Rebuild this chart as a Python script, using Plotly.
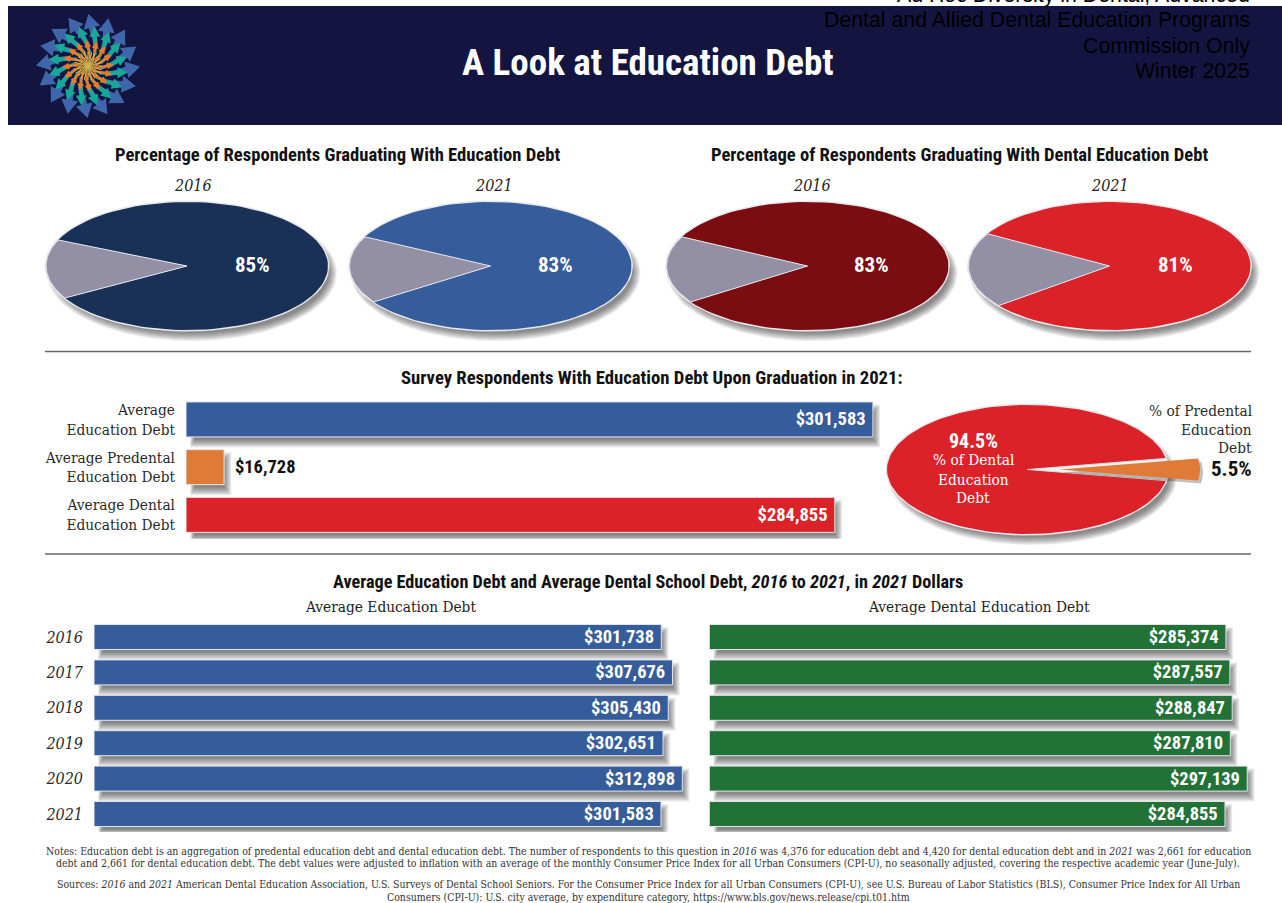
import math
import plotly.graph_objects as go

W, H = 1282, 903

# ---- data ----
PIE_TITLES = ["Percentage of Respondents Graduating With Education Debt",
              "Percentage of Respondents Graduating With Dental Education Debt"]
PIE_YEARS = ["2016", "2021", "2016", "2021"]
PIE_SHARES = [85, 83, 83, 81]

SURVEY_LABELS = ["Average<br>Education Debt", "Average Predental<br>Education Debt",
                 "Average Dental<br>Education Debt"]
SURVEY_VALUES = [301583, 16728, 284855]
SPLIT_DENTAL = 94.5
SPLIT_PREDENTAL = 5.5

YEARS = ["2016", "2017", "2018", "2019", "2020", "2021"]
AVG_EDUCATION_DEBT = [301738, 307676, 305430, 302651, 312898, 301583]
AVG_DENTAL_DEBT = [285374, 287557, 288847, 287810, 297139, 284855]

HEADER_LINES = ["Ad Hoc Diversity in Dental, Advanced",
                "Dental and Allied Dental Education Programs",
                "Commission Only", "Winter 2025"]
NOTE_LINES = [
    "Notes: Education debt is an aggregation of predental education debt and dental education debt. The number of respondents to this question in <i>2016</i> was 4,376 for education debt and 4,420 for dental education debt and in <i>2021</i> was 2,661 for education",
    "debt and 2,661 for dental education debt. The debt values were adjusted to inflation with an average of the monthly Consumer Price Index for all Urban Consumers (CPI-U), no seasonally adjusted, covering the respective academic year (June-July).",
    "Sources: <i>2016</i> and <i>2021</i> American Dental Education Association, U.S. Surveys of Dental School Seniors. For the Consumer Price Index for all Urban Consumers (CPI-U), see U.S. Bureau of Labor Statistics (BLS), Consumer Price Index for All Urban",
    "Consumers (CPI-U): U.S. city average, by expenditure category, https://www.bls.gov/news.release/cpi.t01.htm",
]

# ---- styling ----
NAVY_BAND = "#131540"
NAVY = "#1a3157"
BLUE = "#355c9b"
MAROON = "#7a0c12"
RED = "#dc2229"
ORANGE = "#df7a37"
GREEN = "#227137"
GREY_SLICE = "#9390a5"
HEAD = "Roboto Condensed"
SLAB = "DejaVu Serif Condensed"

fig = go.Figure()


def px(x):
    return x / W


def py(y):
    return 1 - y / H


def label(x, y, text, size, font=HEAD, color="#111111", bold=False, anchor="center", italic=False):
    if bold:
        text = f"<b>{text}</b>"
    fig.add_annotation(xref="paper", yref="paper", x=px(x), y=py(y), text=text, showarrow=False,
                       xanchor=anchor, yanchor="middle", align=anchor,
                       font=dict(size=size, family=font, color=color,
                                 style="italic" if italic else "normal"),
                       borderpad=0, borderwidth=0)


def polygon(xs, ys, fill, line=None, width=0):
    fig.add_trace(go.Scatter(x=xs, y=ys, mode="lines", fill="toself", fillcolor=fill,
                             line=dict(color=line or "rgba(0,0,0,0)", width=width),
                             hoverinfo="skip", showlegend=False, xaxis="x", yaxis="y"))


def arc(cx, cy, rx, ry, a0, a1, n=90):
    ts = [math.radians(a0 + (a1 - a0) * i / n) for i in range(n + 1)]
    return [cx + rx * math.cos(t) for t in ts], [cy + ry * math.sin(t) for t in ts]


def soft_shadow(cx, cy, rx, ry):
    for s in range(9):
        xs, ys = arc(cx + 5, cy + 7, rx + s - 4, ry + s - 4, 0, 360)
        polygon(xs, ys, "rgba(30,30,30,0.075)")


def ellipse_pie(cx, cy, share, colour, tilt, rx=141, ry=64):
    """Main slice in colour; the remainder in grey, centred on the left side of the ellipse."""
    rest = (100 - share) * 3.6
    mid = 180 - tilt
    soft_shadow(cx, cy, rx, ry)
    xs, ys = arc(cx, cy, rx + 1.5, ry + 1.5, 0, 360)
    polygon(xs, ys, "#e8e8ec")
    xs, ys = arc(cx, cy, rx, ry, mid + rest / 2, mid - rest / 2 + 360)
    polygon([cx] + xs + [cx], [cy] + ys + [cy], colour)
    xs, ys = arc(cx, cy, rx, ry, mid - rest / 2, mid + rest / 2, 40)
    polygon([cx] + xs + [cx], [cy] + ys + [cy], GREY_SLICE, "#e4e4ea", 1)


def emblem(cx, cy):
    """Pinwheel of nested arrows in the header band."""
    rings = [(16, 22, 52, -22, 8.5, 14, 3.2, 0, "#3f66ab"),
             (16, 13, 40, -24, 5.5, 10, 2.2, 11, "#17a89a"),
             (16, 7, 26, -26, 3.5, 7, 1.4, 0, "#e77b2a")]
    for count, r0, r1, swirl, w, head, shaft, turn, colour in rings:
        xs, ys = [], []
        for i in range(count):
            a = 2 * math.pi * i / count + math.radians(turn)
            b = a + math.radians(swirl)
            sx, sy = cx + r0 * math.cos(a), cy + r0 * math.sin(a)
            tx, ty = cx + r1 * math.cos(b), cy + r1 * math.sin(b)
            length = math.hypot(tx - sx, ty - sy)
            ux, uy = (tx - sx) / length, (ty - sy) / length
            nx, ny = -uy, ux
            bx, by = tx - ux * head, ty - uy * head
            pts = [(sx + nx * shaft * 0.6, sy + ny * shaft * 0.6), (bx + nx * shaft, by + ny * shaft),
                   (bx + nx * w, by + ny * w), (tx, ty), (bx - nx * w, by - ny * w),
                   (bx - nx * shaft, by - ny * shaft), (sx - nx * shaft * 0.6, sy - ny * shaft * 0.6)]
            xs += [p[0] for p in pts] + [pts[0][0], None]
            ys += [p[1] for p in pts] + [pts[0][1], None]
        polygon(xs, ys, colour)
    xs, ys = [], []
    for i in range(24):
        a = 2 * math.pi * i / 24
        xs += [cx, cx + 14 * math.cos(a), None]
        ys += [cy, cy + 14 * math.sin(a), None]
    fig.add_trace(go.Scatter(x=xs, y=ys, mode="lines", line=dict(color="#d3b04a", width=1.2),
                             hoverinfo="skip", showlegend=False, xaxis="x", yaxis="y"))


# ---- pixel-scaled backdrop axes for the emblem and the elliptical pies ----
emblem(88, 66)
PIE_CENTRES = [(187, 266, 3), (490.5, 266, 3.5), (807.5, 266, 3.5), (1109.5, 266, 4)]
PIE_COLOURS = [NAVY, BLUE, MAROON, RED]
for (cx, cy, tilt), share, colour in zip(PIE_CENTRES, PIE_SHARES, PIE_COLOURS):
    ellipse_pie(cx, cy, share, colour, tilt)

# Dental / predental split pie with the predental slice pulled out to the right
sx, sy, srx, sry = 1027.5, 469.5, 140.5, 64.5
half = SPLIT_PREDENTAL * 3.6 / 2
soft_shadow(sx, sy, srx, sry)
xs, ys = arc(sx, sy, srx + 1.5, sry + 1.5, 0, 360)
polygon(xs, ys, "#e8e8ec")
xs, ys = arc(sx, sy, srx, sry, half, 360 - half, 140)
polygon([sx] + xs + [sx], [sy] + ys + [sy], RED)
xs, ys = arc(sx, sy, srx, sry, -half, half, 10)
polygon([sx] + xs + [sx], [sy] + ys + [sy], "#f2f2f2", "#d9d9d9", 1)
ox = sx + 32
xs, ys = arc(ox + 3, sy + 3, srx, sry, -half, half, 10)
polygon([ox + 3] + xs + [ox + 3], [sy + 3] + ys + [sy + 3], "rgba(30,30,30,0.28)")
xs, ys = arc(ox, sy, srx, sry, -half, half, 10)
polygon([ox] + xs + [ox], [sy] + ys + [sy], ORANGE)


# ---- bar panels ----
def bar_panel(axis_id, categories, values, colours, x0, x1, top, step, thick, xmax, tick_size=None):
    xa, ya = f"x{axis_id}", f"y{axis_id}"
    n = len(categories)
    per_px = xmax / (x1 - x0)
    width = thick / step
    # translucent layers widening outward give the soft drop shadow
    for s in range(9):
        spread = (s - 4) / step
        start = (9 - s * 0.6) * per_px
        extra = (s * 0.9) * per_px
        fig.add_trace(go.Bar(
            y=categories, x=[v + extra - start for v in values], base=[start] * n, orientation="h",
            marker=dict(color="rgba(30,30,30,0.08)", line=dict(width=0)),
            width=width + 2 * spread, offset=[-width / 2 - spread + 6.5 / step] * n,
            xaxis=xa, yaxis=ya, hoverinfo="skip", showlegend=False, cliponaxis=False))
    fig.add_trace(go.Bar(
        y=categories, x=values, orientation="h", width=width,
        marker=dict(color=colours, line=dict(color="#e3e6ec", width=1)),
        text=[f"${v:,}\u00a0" if v > 50000 else f"\u00a0\u2009${v:,}" for v in values],
        textposition=["inside" if v > 50000 else "outside" for v in values],
        insidetextanchor="end", constraintext="none", textangle=0,
        textfont=dict(family=HEAD, size=18.5, color=["#ffffff" if v > 50000 else "#111111" for v in values],
                      weight="bold"),
        xaxis=xa, yaxis=ya, hoverinfo="skip", showlegend=False, cliponaxis=False))
    fig.update_layout({
        f"xaxis{axis_id}": dict(domain=[px(x0), px(x1)], range=[0, xmax], visible=False, fixedrange=True),
        f"yaxis{axis_id}": dict(domain=[py(top + n * step), py(top)], range=[n - 0.5, -0.5],
                                type="category", anchor=xa, fixedrange=True, showgrid=False,
                                zeroline=False, showline=False, ticks="", ticklen=0,
                                showticklabels=tick_size is not None,
                                ticklabelstandoff=10,
                                tickfont=dict(family=SLAB, size=tick_size or 14, color="#2a2a2a",
                                              style="italic" if axis_id == 3 else "normal")),
    })


bar_panel(2, SURVEY_LABELS, SURVEY_VALUES, [BLUE, ORANGE, RED], 186, 880, 395.6, 47.7, 35, 304700, 15.3)
bar_panel(3, YEARS, AVG_EDUCATION_DEBT, BLUE, 94, 690, 619.3, 35.4, 25, 317000, 16)
bar_panel(4, YEARS, AVG_DENTAL_DEBT, GREEN, 709.4, 1260, 619.3, 35.4, 25, 304200)

# ---- text ----
label(648, 62, "A Look at Education Debt", 37, color="#ffffff", bold=True)
for i, line in enumerate(HEADER_LINES):
    label(1250, -5 + i * 25.3, line, 21.3, font="Liberation Sans", color="#000000", anchor="right")

label(337, 155, PIE_TITLES[0], 18.6, bold=True)
label(959, 155, PIE_TITLES[1], 18.6, bold=True)
for x, year in zip([193, 494, 812, 1110], PIE_YEARS):
    label(x, 185, year, 16, font=SLAB, color="#222222", italic=True)
for x, share in zip([252, 555, 871, 1175], PIE_SHARES):
    label(x, 265, f"{share}%", 21, color="#ffffff", bold=True)

label(652, 378, "Survey Respondents With Education Debt Upon Graduation in 2021:", 18.7, bold=True)
label(973, 441, f"{SPLIT_DENTAL}%", 20, color="#ffffff", bold=True)
label(973, 460.5, "% of Dental", 15.3, font=SLAB, color="#ffffff")
label(973, 479.5, "Education", 15.3, font=SLAB, color="#ffffff")
label(973, 498, "Debt", 15.3, font=SLAB, color="#ffffff")
for y, line in zip([411, 429.5, 448], ["% of Predental", "Education", "Debt"]):
    label(1252, y, line, 15.3, font=SLAB, color="#2a2a2a", anchor="right")
label(1252, 469, f"{SPLIT_PREDENTAL}%", 21, bold=True, anchor="right")

label(648, 581, "Average Education Debt and Average Dental School Debt, <i>2016</i> to <i>2021</i>, in <i>2021</i> Dollars", 18.2, bold=True)
label(390, 607, "Average Education Debt", 15.3, font=SLAB, color="#222222")
label(979, 607, "Average Dental Education Debt", 15.3, font=SLAB, color="#222222")

for y, line in zip([851, 863, 884, 897], NOTE_LINES):
    label(648, y, line, 10.46, font=SLAB, color="#333333")

fig.update_layout(
    width=W, height=H, margin=dict(l=0, r=0, t=0, b=0), autosize=False,
    paper_bgcolor="#ffffff", plot_bgcolor="rgba(0,0,0,0)", barmode="overlay", showlegend=False,
    xaxis=dict(range=[0, W], visible=False, domain=[0, 1], fixedrange=True),
    yaxis=dict(range=[H, 0], visible=False, domain=[0, 1], fixedrange=True),
    shapes=[
        dict(type="rect", xref="paper", yref="paper", x0=px(8), x1=1, y0=py(125), y1=py(6),
             fillcolor=NAVY_BAND, line=dict(width=0), layer="below"),
        dict(type="line", xref="paper", yref="paper", x0=px(45), x1=px(1251), y0=py(351.5), y1=py(351.5),
             line=dict(color="#666666", width=1.5), layer="below"),
        dict(type="line", xref="paper", yref="paper", x0=px(45), x1=px(1251), y0=py(554), y1=py(554),
             line=dict(color="#666666", width=1.5), layer="below"),
    ],
)

fig.write_html("out.html", config=dict(displayModeBar=False))
